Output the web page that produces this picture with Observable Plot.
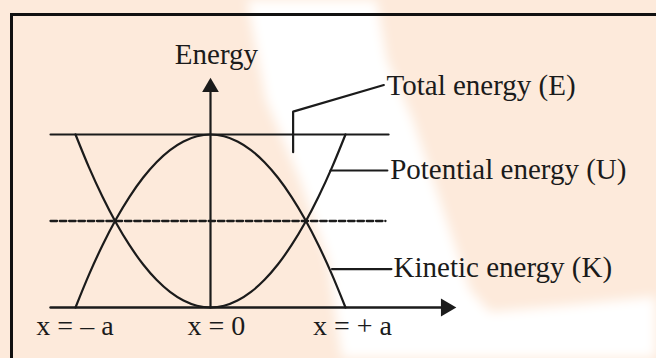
<!DOCTYPE html>
<html><head><meta charset="utf-8">
<script src="https://cdn.jsdelivr.net/npm/d3@7"></script>
<script src="https://cdn.jsdelivr.net/npm/@observablehq/plot@0.6"></script>
<style>
html,body{margin:0;padding:0;background:#fdeadb;overflow:hidden;}
#wrap{position:relative;width:656px;height:358px;overflow:hidden;background:#fdeadb;}
#band{position:absolute;left:0;top:0;width:656px;height:358px;background:#fff;
  clip-path:polygon(243px -20px,373px -20px,387px 60px,413px 120px,433px 180px,470px 290px,490px 312px,560px 306px,680px 294px,680px 380px,345px 380px,328px 260px,300px 180px,266px 100px);}
#band2{position:absolute;left:0;top:0;width:656px;height:358px;filter:blur(6px);}
#frame{position:absolute;left:10px;top:13px;width:643px;height:342px;border-left:3px solid #111;border-top:3px solid #111;border-right:0;border-bottom:0;}
#chart{position:absolute;left:0;top:0;}
</style></head><body>
<div id="wrap">
<div id="band2"><div id="band"></div></div>
<div id="frame"></div>
<div id="chart"></div>
</div>
<script>
// positions in units of amplitude a
const xs = [-1,-0.9,-0.8,-0.7,-0.6,-0.5,-0.4,-0.3,-0.2,-0.1,0,0.1,0.2,0.3,0.4,0.5,0.6,0.7,0.8,0.9,1];
// energies in units of total energy E
const potential = [1,0.81,0.64,0.49,0.36,0.25,0.16,0.09,0.04,0.01,0,0.01,0.04,0.09,0.16,0.25,0.36,0.49,0.64,0.81,1];
const kinetic = [0,0.19,0.36,0.51,0.64,0.75,0.84,0.91,0.96,0.99,1,0.99,0.96,0.91,0.84,0.75,0.64,0.51,0.36,0.19,0];
const totalEnergy = 1;
const halfEnergy = 0.5;
const lineExtent = [-1.185, 1.319];
const dashExtent = [-1.185, 1.296];
const xAxisExtent = [-1.185, 1.745];
const yAxisTop = 1.273;

const xTickLabels = ["x = \u2013 a", "x = 0", "x = + a"];
const xTickPos = [-1.004, 0.044, 1.052];
const xTickY = -0.11;

const yTitle = "Energy";
const yTitlePos = [0.044, 1.462];

const seriesLabels = ["Total energy (E)", "Potential energy (U)", "Kinetic energy (K)"];
const labelX = [1.304, 1.331, 1.356];
const labelY = [1.281, 0.798, 0.232];
// leader lines (x, y) per label
const leaderTotalX = [0.612, 0.612, 1.284];
const leaderTotalY = [0.898, 1.132, 1.286];
const leaderPotX = [0.889, 1.31];
const leaderPotY = [0.792, 0.792];
const leaderKinX = [0.9, 1.34];
const leaderKinY = [0.222, 0.222];

const ink = "#1b1b1b";
const font = "'Liberation Serif', 'Times New Roman', serif";

const pts = (X, Y) => X.map((x, i) => ({x, y: Y[i]}));

const chart = Plot.plot({
  width: 656, height: 358, margin: 0,
  x: {domain: [-1, 1], range: [75, 345], axis: null},
  y: {domain: [0, 1], range: [307, 134], axis: null},
  style: {background: "transparent", fontFamily: font},
  marks: [
    Plot.line(pts(lineExtent, [totalEnergy, totalEnergy]), {x: "x", y: "y", stroke: ink, strokeWidth: 2.2}),
    Plot.line(pts(dashExtent, [halfEnergy, halfEnergy]), {x: "x", y: "y", stroke: ink, strokeWidth: 2.3, strokeDasharray: "6.5,2.8"}),
    Plot.line(pts(xAxisExtent, [0, 0]), {x: "x", y: "y", stroke: ink, strokeWidth: 2.4}),
    Plot.line(pts([0, 0], [0, yAxisTop]), {x: "x", y: "y", stroke: ink, strokeWidth: 2.2}),
    Plot.dot([{x: 0, y: yAxisTop}], {x: "x", y: "y", symbol: "triangle", r: 6.2, fill: ink, stroke: null}),
    Plot.dot([{x: xAxisExtent[1], y: 0}], {x: "x", y: "y", symbol: "triangle", r: 6.6, fill: ink, stroke: null, rotate: 90}),
    Plot.line(pts(xs, potential), {x: "x", y: "y", curve: "catmull-rom", stroke: ink, strokeWidth: 2.2}),
    Plot.line(pts(xs, kinetic), {x: "x", y: "y", curve: "catmull-rom", stroke: ink, strokeWidth: 2.2}),
    Plot.line(pts(leaderTotalX, leaderTotalY), {x: "x", y: "y", stroke: ink, strokeWidth: 2.2}),
    Plot.line(pts(leaderPotX, leaderPotY), {x: "x", y: "y", stroke: ink, strokeWidth: 2.2}),
    Plot.line(pts(leaderKinX, leaderKinY), {x: "x", y: "y", stroke: ink, strokeWidth: 2.2}),
    Plot.text(seriesLabels, {x: (d, i) => labelX[i], y: (d, i) => labelY[i], text: d => d, textAnchor: "start", fontSize: 29, fill: ink, fontFamily: font}),
    Plot.text(xTickLabels, {x: (d, i) => xTickPos[i], y: () => xTickY, text: d => d, textAnchor: "middle", fontSize: 28, fill: ink, fontFamily: font}),
    Plot.text([yTitle], {x: () => yTitlePos[0], y: () => yTitlePos[1], text: d => d, textAnchor: "middle", fontSize: 29, fill: ink, fontFamily: font})
  ]
});
document.getElementById("chart").appendChild(chart);
</script>
</body></html>
